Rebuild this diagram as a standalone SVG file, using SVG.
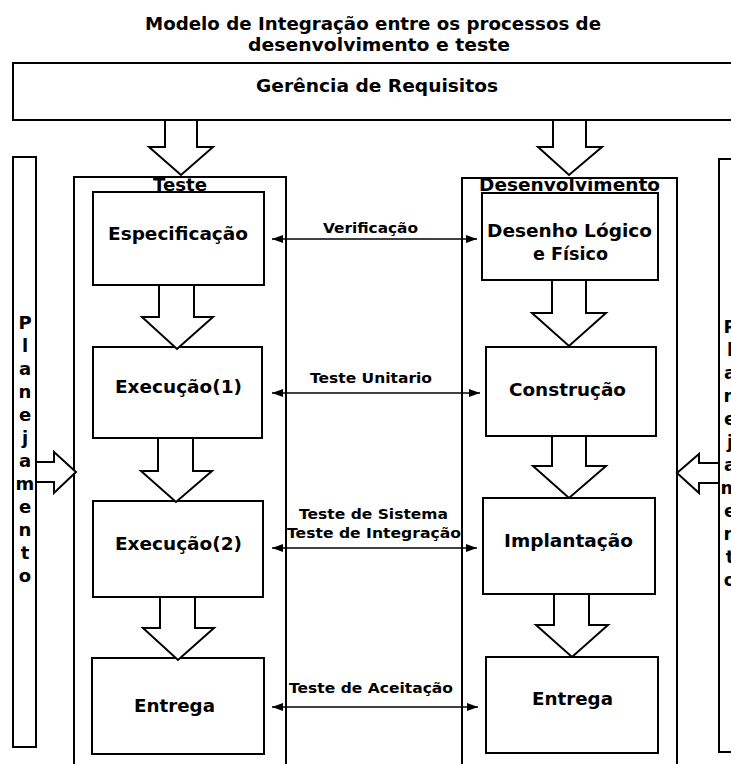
<svg xmlns="http://www.w3.org/2000/svg" width="731" height="764" viewBox="0 0 731 764">
<defs>
<style>
text{font-family:"DejaVu Sans","Liberation Sans",sans-serif;font-weight:bold;fill:#000;text-anchor:middle}
.box{fill:#fff;stroke:#000;stroke-width:2}
.cont{fill:none;stroke:#000;stroke-width:2}
.blk{fill:#fff;stroke:#000;stroke-width:2;stroke-linejoin:miter}
.lbl{font-size:17.5px}
.title{font-size:17.5px}
.al{font-size:14.5px}
.side{font-size:18px}
.conn{stroke:#000;stroke-width:1.6;fill:none;marker-start:url(#ah);marker-end:url(#ah)}
</style>
<marker id="ah" viewBox="0 0 11 8" refX="11" refY="4" markerWidth="11" markerHeight="8" markerUnits="userSpaceOnUse" orient="auto-start-reverse">
<path d="M0,0 L11,4 L0,8 Z" fill="#000"/>
</marker>
</defs>
<rect width="731" height="764" fill="#fff"/>

<g id="title">
<text class="title" x="373" y="30" textLength="456" lengthAdjust="spacingAndGlyphs">Modelo de Integração entre os processos de</text>
<text class="title" x="379" y="51" textLength="262" lengthAdjust="spacingAndGlyphs">desenvolvimento e teste</text>
</g>

<g id="gerencia">
<rect class="box" x="13" y="63" width="750" height="57"/>
<text class="title" x="377" y="92" textLength="242" lengthAdjust="spacingAndGlyphs">Gerência de Requisitos</text>
</g>

<g id="planejamento-esq">
<rect class="box" x="13" y="157" width="23" height="590"/>
<text class="side" x="25"><tspan x="25" y="329">P</tspan><tspan x="25" y="352">l</tspan><tspan x="25" y="375">a</tspan><tspan x="25" y="398">n</tspan><tspan x="25" y="421">e</tspan><tspan x="25" y="444">j</tspan><tspan x="25" y="467">a</tspan><tspan x="25" y="490">m</tspan><tspan x="25" y="513">e</tspan><tspan x="25" y="536">n</tspan><tspan x="25" y="559">t</tspan><tspan x="25" y="582">o</tspan></text>
</g>

<g id="planejamento-dir">
<rect class="box" x="719" y="159" width="23" height="593"/>
<text class="side" x="730"><tspan x="730" y="333">P</tspan><tspan x="730" y="356">l</tspan><tspan x="730" y="379">a</tspan><tspan x="730" y="402">n</tspan><tspan x="730" y="425">e</tspan><tspan x="730" y="448">j</tspan><tspan x="730" y="471">a</tspan><tspan x="730" y="494">m</tspan><tspan x="730" y="517">e</tspan><tspan x="730" y="540">n</tspan><tspan x="730" y="563">t</tspan><tspan x="730" y="586">o</tspan></text>
</g>

<g id="teste">
<rect class="cont" x="74" y="177" width="212" height="600"/>
<text class="lbl" x="180" y="191" textLength="54" lengthAdjust="spacingAndGlyphs">Teste</text>
</g>

<g id="desenvolvimento">
<rect class="cont" x="462" y="178" width="215" height="600"/>
<text class="lbl" x="569.5" y="191" textLength="181" lengthAdjust="spacingAndGlyphs">Desenvolvimento</text>
</g>

<g id="especificacao">
<rect class="box" x="93" y="192" width="171" height="93"/>
<text class="lbl" x="178" y="240" textLength="140" lengthAdjust="spacingAndGlyphs">Especificação</text>
</g>

<g id="execucao1">
<rect class="box" x="93" y="347" width="169" height="91"/>
<text class="lbl" x="178.5" y="393" textLength="127" lengthAdjust="spacingAndGlyphs">Execução(1)</text>
</g>

<g id="execucao2">
<rect class="box" x="93" y="501" width="170" height="96"/>
<text class="lbl" x="178.5" y="550" textLength="127" lengthAdjust="spacingAndGlyphs">Execução(2)</text>
</g>

<g id="entrega-teste">
<rect class="box" x="92" y="658" width="172" height="96"/>
<text class="lbl" x="174.5" y="712" textLength="81" lengthAdjust="spacingAndGlyphs">Entrega</text>
</g>

<g id="desenho">
<rect class="box" x="482" y="193" width="176" height="87"/>
<text class="lbl" x="569.5" y="237" textLength="165" lengthAdjust="spacingAndGlyphs">Desenho Lógico</text>
<text class="lbl" x="570.5" y="260" textLength="75" lengthAdjust="spacingAndGlyphs">e Físico</text>
</g>

<g id="construcao">
<rect class="box" x="486" y="347" width="170" height="89"/>
<text class="lbl" x="567.5" y="396" textLength="117" lengthAdjust="spacingAndGlyphs">Construção</text>
</g>

<g id="implantacao">
<rect class="box" x="483" y="498" width="172" height="96"/>
<text class="lbl" x="568.5" y="547" textLength="129" lengthAdjust="spacingAndGlyphs">Implantação</text>
</g>

<g id="entrega-dev">
<rect class="box" x="486" y="657" width="172" height="96"/>
<text class="lbl" x="572.5" y="705" textLength="81" lengthAdjust="spacingAndGlyphs">Entrega</text>
</g>

<g id="connectors">
<polygon class="blk" points="165,120 197,120 197,147 213,147 181,175 149,147 165,147"/>
<polygon class="blk" points="553,120 586,120 586,147 602,147 569,175 538,147 553,147"/>
<polygon class="blk" points="159,285 194,285 194,317 213,317 177,349 142,317 159,317"/>
<polygon class="blk" points="158,438 193,438 193,471 212,471 176,502 141,471 158,471"/>
<polygon class="blk" points="160,597 195,597 195,628 214,628 178,660 143,628 160,628"/>
<polygon class="blk" points="552,280 586,280 586,313 606,313 569,346 532,313 552,313"/>
<polygon class="blk" points="552,436 586,436 586,466 606,466 569,498 533,466 552,466"/>
<polygon class="blk" points="554,594 589,594 589,625 608,625 572,657 536,625 554,625"/>
<polygon class="blk" points="36,462 54,462 54,452 76,472 54,493 54,482 36,482"/>
<polygon class="blk" points="719,463 699,463 699,454 677,473 699,493 699,483 719,483"/>
<line class="conn" x1="272" y1="239" x2="477" y2="239"/>
<line class="conn" x1="272" y1="393" x2="480" y2="393"/>
<line class="conn" x1="272" y1="548" x2="477" y2="548"/>
<line class="conn" x1="272" y1="707" x2="478" y2="707"/>
<text class="al" x="370.5" y="233" textLength="95" lengthAdjust="spacingAndGlyphs">Verificação</text>
<text class="al" x="371" y="383" textLength="122" lengthAdjust="spacingAndGlyphs">Teste Unitario</text>
<text class="al" x="373.5" y="519" textLength="149" lengthAdjust="spacingAndGlyphs">Teste de Sistema</text>
<text class="al" x="374" y="538" textLength="174" lengthAdjust="spacingAndGlyphs">Teste de Integração</text>
<text class="al" x="371" y="693" textLength="164" lengthAdjust="spacingAndGlyphs">Teste de Aceitação</text>
</g>
</svg>
